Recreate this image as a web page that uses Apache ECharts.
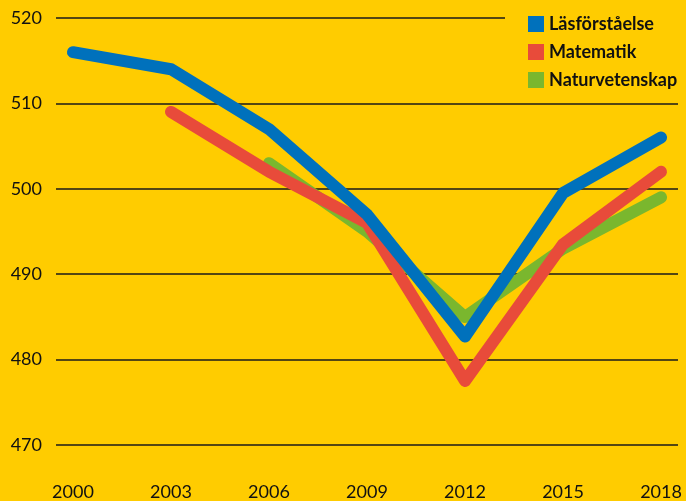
<!DOCTYPE html>
<html>
<head>
<meta charset="utf-8">
<script src="https://cdn.jsdelivr.net/npm/echarts@6/dist/echarts.min.js"></script>
<style>
  html, body { margin: 0; padding: 0; background: #FFCC00; }
  #chart { width: 686px; height: 501px; }
</style>
</head>
<body>
<div id="chart"></div>
<script>
// PISA-resultat
const years = [2000, 2003, 2006, 2009, 2012, 2015, 2018];
const lasforstaelse = [516, 514, 507, 497, 482.7, 499.5, 506];
const matematik = [null, 509, 502, 496, 477.5, 493.5, 502];
const naturvetenskap = [null, null, 503, 495, 485, 493, 499];

const FONT = 'Lato, "Noto Sans", sans-serif';
const COLORS = {
  las: '#0071BC',
  mat: '#E84B3A',
  nat: '#7AB72E',
};

const pairs = (vals) => years.map((y, i) => [y, vals[i]]).filter((p) => p[1] !== null);

const lineSeries = (name, vals, color) => ({
  name: name,
  type: 'line',
  data: pairs(vals),
  symbol: 'none',
  color: color,
  lineStyle: { width: 12, color: color, cap: 'round', join: 'round' },
});

const chart = echarts.init(document.getElementById('chart'));

chart.setOption({
  backgroundColor: '#FFCC00',
  animation: false,
  grid: { left: 56, right: 8, top: 18, bottom: 55 },
  legend: {
    data: ['Läsförståelse', 'Matematik', 'Naturvetenskap'],
    orient: 'vertical',
    left: 505,
    top: 0,
    padding: [15, 2, 6, 23], // yellow box hides the end of the 520 line
    backgroundColor: '#FFCC00',
    itemWidth: 16,
    itemHeight: 16,
    itemGap: 10,
    icon: 'rect',
    textStyle: { fontFamily: FONT, fontSize: 18, fontWeight: 'bold', color: '#111' },
  },
  xAxis: {
    type: 'value',
    min: 1999.48,
    max: 2018.52,
    axisLine: { show: false },
    axisTick: { show: false },
    splitLine: { show: false },
    axisLabel: {
      customValues: years,
      margin: 38,
      fontFamily: FONT,
      fontSize: 18,
      color: '#111',
      formatter: (v) => String(v),
    },
  },
  yAxis: {
    type: 'value',
    min: 470,
    max: 520,
    interval: 10,
    axisLine: { show: false },
    axisTick: { show: false },
    axisLabel: {
      margin: 14,
      fontFamily: FONT,
      fontSize: 18,
      color: '#111',
    },
    splitLine: { lineStyle: { color: '#1a1a1a', width: 1.5 } },
  },
  // green at the bottom, blue on top
  series: [
    lineSeries('Naturvetenskap', naturvetenskap, COLORS.nat),
    lineSeries('Matematik', matematik, COLORS.mat),
    lineSeries('Läsförståelse', lasforstaelse, COLORS.las),
  ],
});
</script>
</body>
</html>
